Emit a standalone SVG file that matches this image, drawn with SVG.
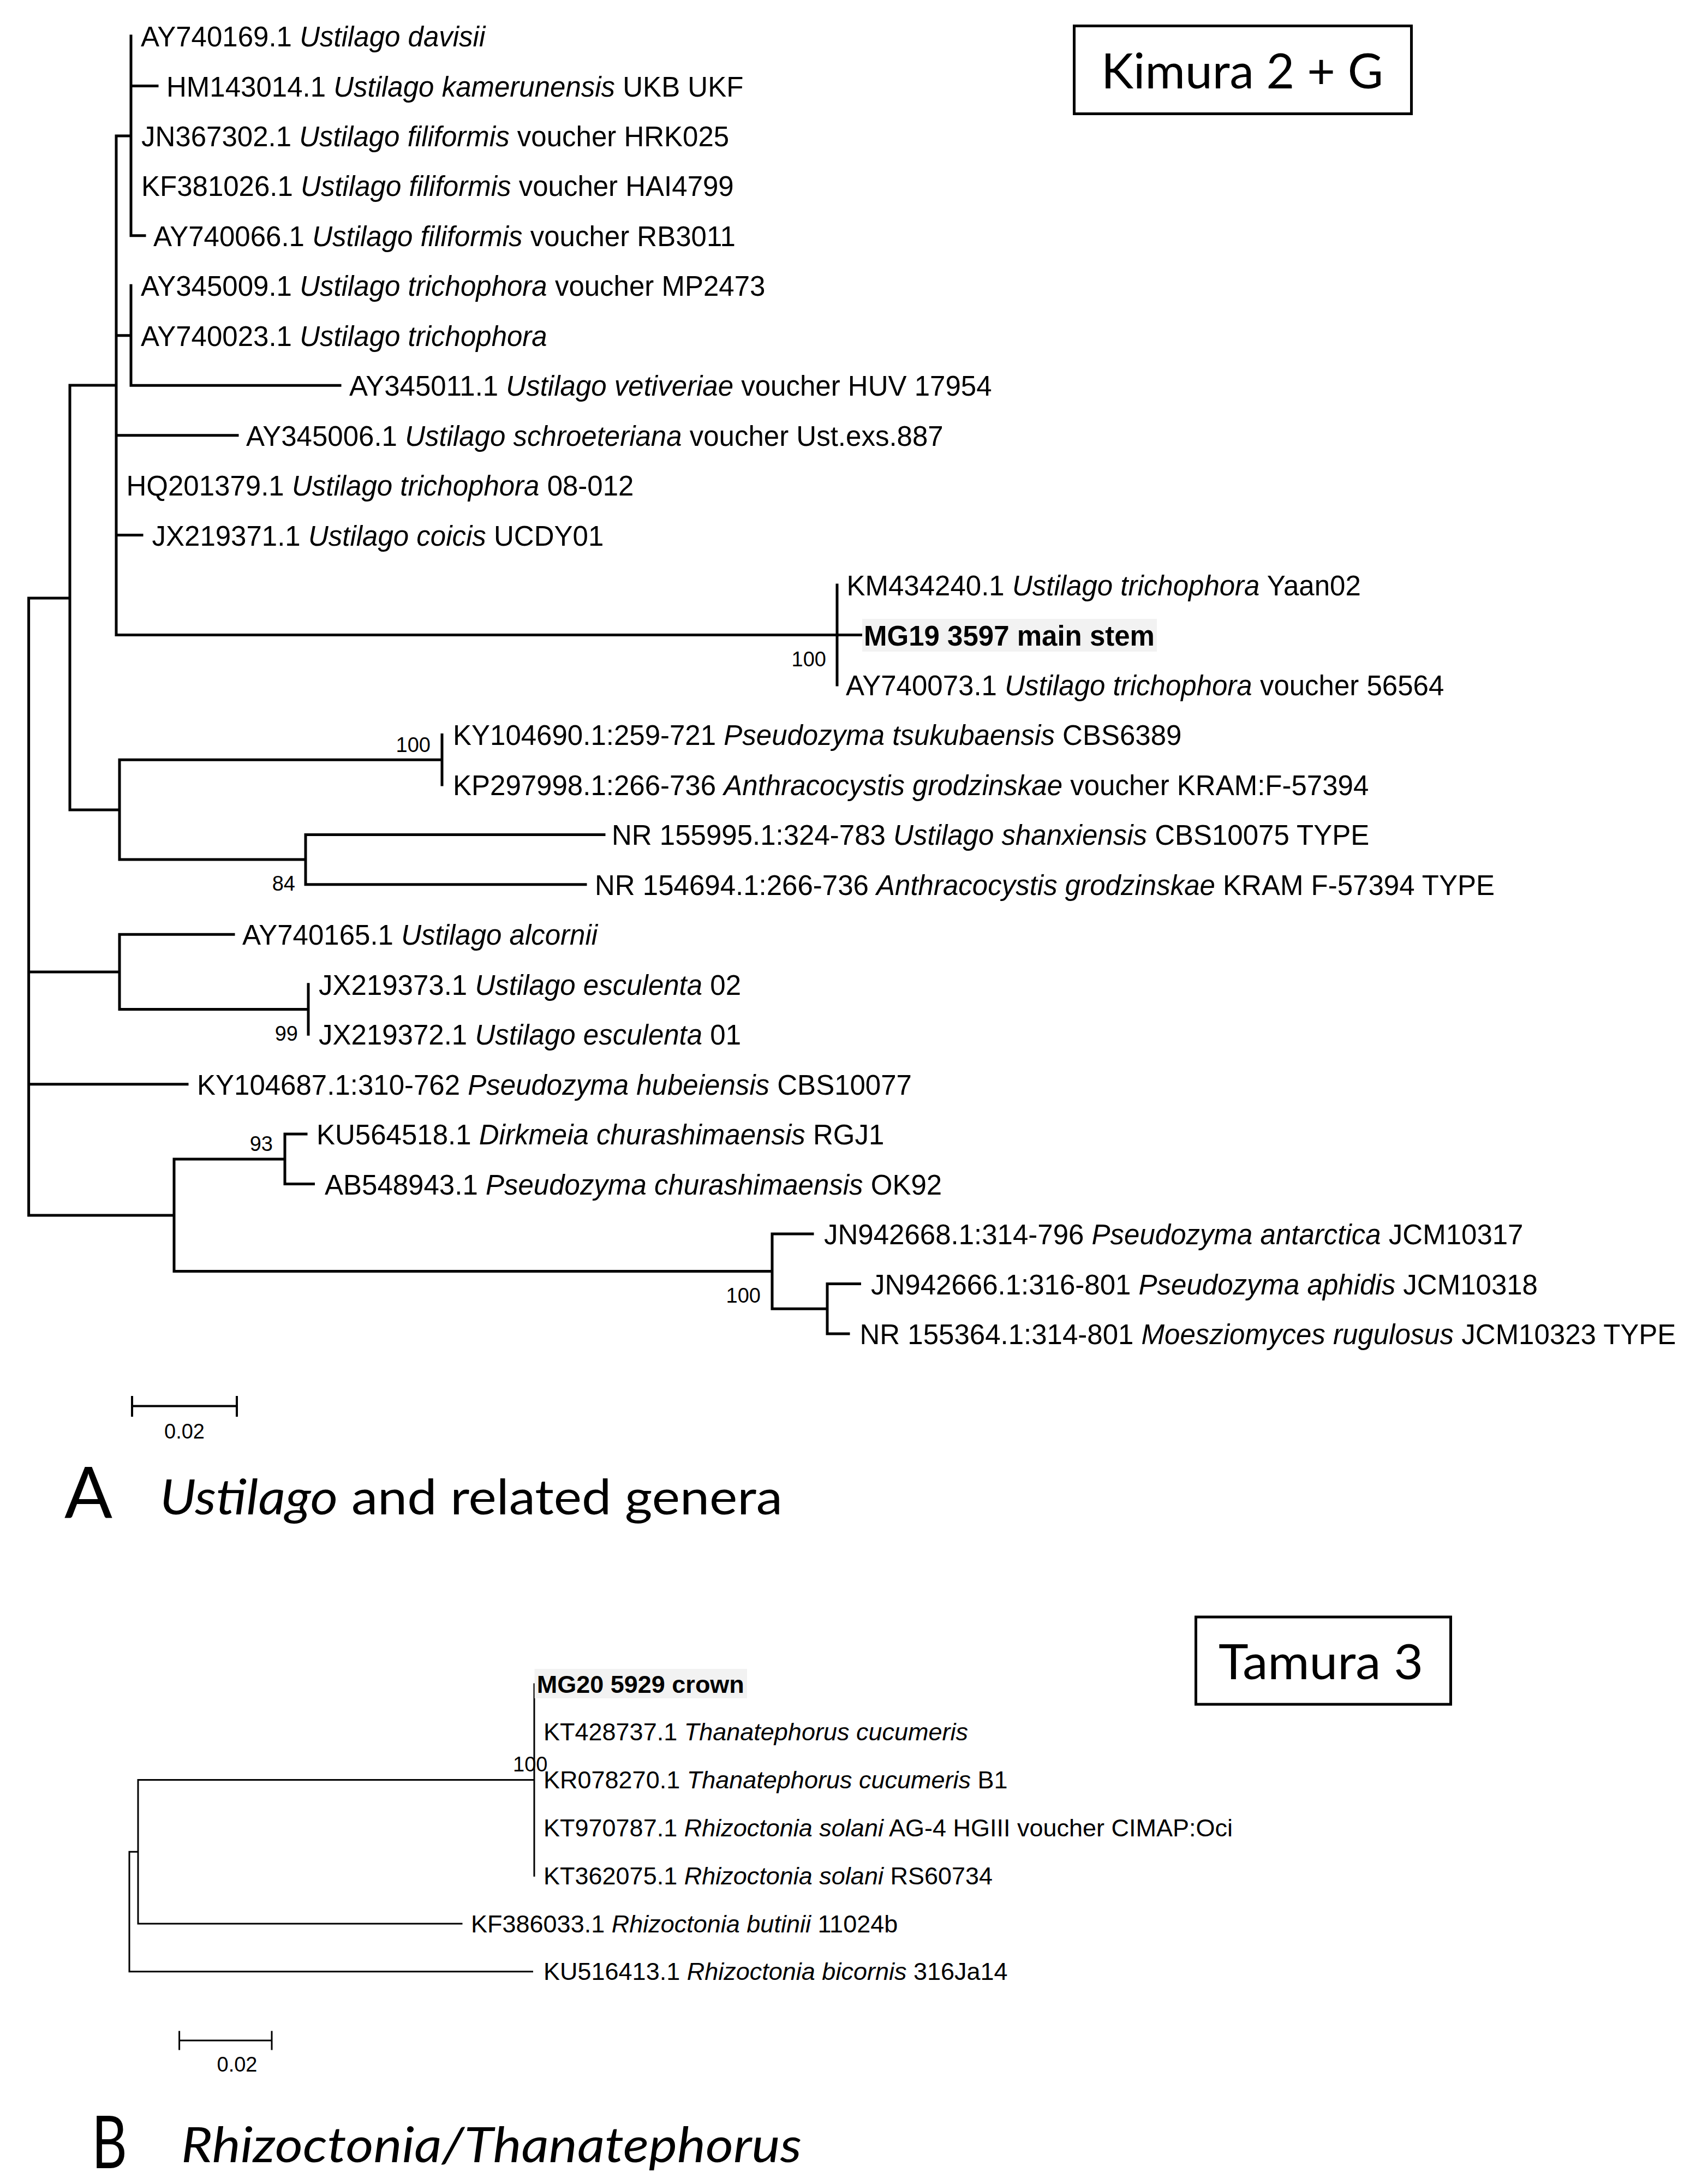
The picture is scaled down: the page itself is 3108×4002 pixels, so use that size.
<svg xmlns="http://www.w3.org/2000/svg" width="3108" height="4002" viewBox="0 0 3108 4002">
<style>
.t{font-family:"Liberation Sans",Arial,sans-serif;font-size:51px;fill:#000}
.tb{font-family:"Liberation Sans",Arial,sans-serif;font-size:45px;fill:#000}
.bs{font-family:"Liberation Sans",Arial,sans-serif;font-size:38px;fill:#000}
.i{font-style:italic}
.b{font-weight:bold}
.ttl{font-family:Lato,"Open Sans",sans-serif;fill:#000}
.br{stroke:#000;stroke-width:5;fill:none;stroke-linecap:square}
.brB{stroke:#000;stroke-width:3;fill:none;stroke-linecap:square}
.box{stroke:#000;stroke-width:5;fill:#fff}
.hl{fill:#f2f2f2}
</style>
<rect x="0" y="0" width="3108" height="4002" fill="#fff"/>

<g id="connectors">
<path class="br" d="M52.6 1096 V2227 M52.6 1096 H128 M128 706 V1484 M128 706 H213 M213 249 V1163.5
M213 249 H240 M240 66 V431.8 M240 157.5 H288 M240 431.8 H265
M213 614.8 H240 M240 523.3 V706.2 M240 706.2 H623
M213 797.7 H435 M213 980.6 H260
M213 1163.5 H1534 M1534 1072.1 V1255 M1534 1163.5 H1578
M128 1484 H219 M219 1392.2 V1575.1 M219 1392.2 H810 M810 1346.4 V1437.9
M219 1575.1 H560 M560 1529.4 V1620.8 M560 1529.4 H1107 M560 1620.8 H1073
M52.6 1781 H219 M219 1712.3 V1849.5 M219 1712.3 H428 M219 1849.5 H565 M565 1803.7 V1895.2
M52.6 1986.7 H343
M52.6 2227 H319 M319 2123.9 V2329.6 M319 2123.9 H522 M522 2078.1 V2169.6 M522 2078.1 H561 M522 2169.6 H574.5
M319 2329.6 H1415 M1415 2261 V2398.3 M1415 2261 H1489 M1415 2398.3 H1516 M1516 2352.5 V2444 M1516 2352.5 H1575.5 M1516 2444 H1555"/>
<path class="brB" d="M979 3086 V3437.2 M253 3261.6 H979 M253 3261.6 V3525 M253 3525 H846 M237 3393.3 V3612.8 M237 3393.3 H253 M237 3612.8 H975.5"/>
</g>

<g id="scalebar-A">
<path class="br" style="stroke-width:4" d="M242 2576.5 H434 M242 2560 V2594 M434 2560 V2594"/>
<text class="bs" x="338" y="2636" text-anchor="middle">0.02</text>
</g>
<g id="scalebar-B">
<path class="brB" d="M328.6 3739 H498 M328.6 3723 V3755 M498 3723 V3755"/>
<text class="bs" x="434.5" y="3796" text-anchor="middle">0.02</text>
</g>

<g id="model-A">
<rect class="box" x="1968.5" y="47.5" width="618" height="161"/>
<text class="ttl" x="2018" y="162" font-size="90" textLength="517" lengthAdjust="spacingAndGlyphs">Kimura 2 + G</text>
</g>
<g id="model-B">
<rect class="box" x="2191.5" y="2963" width="467" height="160"/>
<text class="ttl" x="2233" y="3077" font-size="90" textLength="375" lengthAdjust="spacingAndGlyphs">Tamura 3</text>
</g>

<g id="title-A">
<text class="ttl" x="118" y="2782" font-size="130">A</text>
<text class="ttl" x="293" y="2775" font-size="90" textLength="1141" lengthAdjust="spacingAndGlyphs"><tspan class="i">Ustilago</tspan> and related genera</text>
</g>
<g id="title-B">
<text class="ttl" x="168" y="3973" font-size="134" textLength="65" lengthAdjust="spacingAndGlyphs">B</text>
<text class="ttl i" x="332" y="3962" font-size="90" textLength="1137" lengthAdjust="spacingAndGlyphs">Rhizoctonia/Thanatephorus</text>
</g>

<g id="bootstrap-A">
<text class="bs" x="1514" y="1221" text-anchor="end">100</text>
<text class="bs" x="789" y="1378" text-anchor="end">100</text>
<text class="bs" x="541" y="1632" text-anchor="end">84</text>
<text class="bs" x="546" y="1907" text-anchor="end">99</text>
<text class="bs" x="500" y="2109" text-anchor="end">93</text>
<text class="bs" x="1394" y="2387" text-anchor="end">100</text>
</g>
<g id="bootstrap-B">
<text class="bs" x="940" y="3246">100</text>
</g>

<g id="tips-A">
<g id="t1"><text class="t" x="258" y="85">AY740169.1 <tspan class="i">Ustilago davisii</tspan></text></g>
<g id="t2"><text class="t" x="305" y="176.5">HM143014.1 <tspan class="i">Ustilago kamerunensis</tspan> UKB UKF</text></g>
<g id="t3"><text class="t" x="259" y="267.9">JN367302.1 <tspan class="i">Ustilago filiformis</tspan> voucher HRK025</text></g>
<g id="t4"><text class="t" x="259" y="359.4">KF381026.1 <tspan class="i">Ustilago filiformis</tspan> voucher HAI4799</text></g>
<g id="t5"><text class="t" x="281" y="450.8">AY740066.1 <tspan class="i">Ustilago filiformis</tspan> voucher RB3011</text></g>
<g id="t6"><text class="t" x="258" y="542.3">AY345009.1 <tspan class="i">Ustilago trichophora</tspan> voucher MP2473</text></g>
<g id="t7"><text class="t" x="258" y="633.8">AY740023.1 <tspan class="i">Ustilago trichophora</tspan></text></g>
<g id="t8"><text class="t" x="640" y="725.2">AY345011.1 <tspan class="i">Ustilago vetiveriae</tspan> voucher HUV 17954</text></g>
<g id="t9"><text class="t" x="451" y="816.7">AY345006.1 <tspan class="i">Ustilago schroeteriana</tspan> voucher Ust.exs.887</text></g>
<g id="t10"><text class="t" x="231.5" y="908.1">HQ201379.1 <tspan class="i">Ustilago trichophora</tspan> 08-012</text></g>
<g id="t11"><text class="t" x="278.5" y="999.6">JX219371.1 <tspan class="i">Ustilago coicis</tspan> UCDY01</text></g>
<g id="t12"><text class="t" x="1551.5" y="1091.1">KM434240.1 <tspan class="i">Ustilago trichophora</tspan> Yaan02</text></g>
<g id="t13"><rect class="hl" x="1580" y="1134" width="540" height="60"/><text class="t b" x="1583" y="1182.5">MG19 3597 main stem</text></g>
<g id="t14"><text class="t" x="1550" y="1274">AY740073.1 <tspan class="i">Ustilago trichophora</tspan> voucher 56564</text></g>
<g id="t15"><text class="t" x="830" y="1365.4">KY104690.1:259-721 <tspan class="i">Pseudozyma tsukubaensis</tspan> CBS6389</text></g>
<g id="t16"><text class="t" x="830" y="1456.9">KP297998.1:266-736 <tspan class="i">Anthracocystis grodzinskae</tspan> voucher KRAM:F-57394</text></g>
<g id="t17"><text class="t" x="1121" y="1548.4">NR 155995.1:324-783 <tspan class="i">Ustilago shanxiensis</tspan> CBS10075 TYPE</text></g>
<g id="t18"><text class="t" x="1090" y="1639.8">NR 154694.1:266-736 <tspan class="i">Anthracocystis grodzinskae</tspan> KRAM F-57394 TYPE</text></g>
<g id="t19"><text class="t" x="444" y="1731.3">AY740165.1 <tspan class="i">Ustilago alcornii</tspan></text></g>
<g id="t20"><text class="t" x="584" y="1822.7">JX219373.1 <tspan class="i">Ustilago esculenta</tspan> 02</text></g>
<g id="t21"><text class="t" x="584" y="1914.2">JX219372.1 <tspan class="i">Ustilago esculenta</tspan> 01</text></g>
<g id="t22"><text class="t" x="361" y="2005.7">KY104687.1:310-762 <tspan class="i">Pseudozyma hubeiensis</tspan> CBS10077</text></g>
<g id="t23"><text class="t" x="580" y="2097.1">KU564518.1 <tspan class="i">Dirkmeia churashimaensis</tspan> RGJ1</text></g>
<g id="t24"><text class="t" x="595" y="2188.6">AB548943.1 <tspan class="i">Pseudozyma churashimaensis</tspan> OK92</text></g>
<g id="t25"><text class="t" x="1510" y="2280">JN942668.1:314-796 <tspan class="i">Pseudozyma antarctica</tspan> JCM10317</text></g>
<g id="t26"><text class="t" x="1596" y="2371.5">JN942666.1:316-801 <tspan class="i">Pseudozyma aphidis</tspan> JCM10318</text></g>
<g id="t27"><text class="t" x="1575.5" y="2463">NR 155364.1:314-801 <tspan class="i">Moesziomyces rugulosus</tspan> JCM10323 TYPE</text></g>
</g>

<g id="tips-B">
<g id="u1"><rect class="hl" x="979.6" y="3058" width="389.4" height="54"/><text class="tb b" x="983.7" y="3101.5">MG20 5929 crown</text></g>
<g id="u2"><text class="tb" x="996" y="3189.3">KT428737.1 <tspan class="i">Thanatephorus cucumeris</tspan></text></g>
<g id="u3"><text class="tb" x="996" y="3277.1">KR078270.1 <tspan class="i">Thanatephorus cucumeris</tspan> B1</text></g>
<g id="u4"><text class="tb" x="996" y="3364.9">KT970787.1 <tspan class="i">Rhizoctonia solani</tspan> AG-4 HGIII voucher CIMAP:Oci</text></g>
<g id="u5"><text class="tb" x="996" y="3452.7">KT362075.1 <tspan class="i">Rhizoctonia solani</tspan> RS60734</text></g>
<g id="u6"><text class="tb" x="863" y="3540.5">KF386033.1 <tspan class="i">Rhizoctonia butinii</tspan> 11024b</text></g>
<g id="u7"><text class="tb" x="996" y="3628.3">KU516413.1 <tspan class="i">Rhizoctonia bicornis</tspan> 316Ja14</text></g>
</g>
</svg>
